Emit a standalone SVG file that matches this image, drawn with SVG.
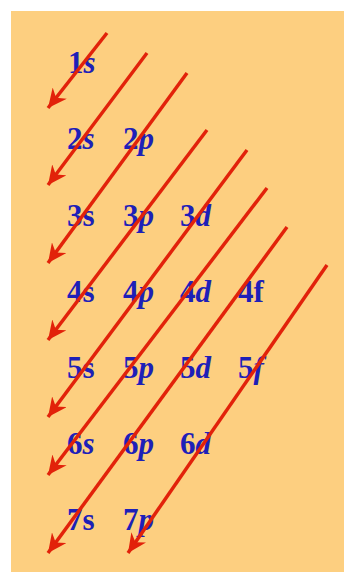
<svg xmlns="http://www.w3.org/2000/svg" width="344" height="572" viewBox="0 0 344 572">
<style>
.lbl{font-family:"Liberation Serif","Times New Roman",serif;font-weight:bold;font-size:31px;fill:#1d20b8}
.it{font-style:italic}
.arr{stroke:#e2220a;stroke-width:3.5;fill:none;marker-end:url(#ah)}
</style>
<defs>
<marker id="ah" markerUnits="userSpaceOnUse" markerWidth="20" markerHeight="18" refX="19" refY="9" orient="auto" viewBox="0 0 20 18">
<path d="M19,9 L0,0 L6,9 L0,18 Z" fill="#e2220a"/>
</marker>
</defs>
<rect x="11" y="11" width="333" height="561" fill="#fdcf80"/>
<g id="labels">
<g id="n1s"><text class="lbl" x="68" y="73">1<tspan class="it">s</tspan></text></g>
<g id="n2s"><text class="lbl" x="67" y="149">2<tspan class="it">s</tspan></text></g>
<g id="n2p"><text class="lbl" x="123" y="149">2<tspan class="it">p</tspan></text></g>
<g id="n3s"><text class="lbl" x="67" y="226">3s</text></g>
<g id="n3p"><text class="lbl" x="123" y="226">3<tspan class="it">p</tspan></text></g>
<g id="n3d"><text class="lbl" x="180" y="226">3<tspan class="it">d</tspan></text></g>
<g id="n4s"><text class="lbl" x="67" y="302">4s</text></g>
<g id="n4p"><text class="lbl" x="123" y="302">4<tspan class="it">p</tspan></text></g>
<g id="n4d"><text class="lbl" x="180" y="302">4<tspan class="it">d</tspan></text></g>
<g id="n4f"><text class="lbl" x="238" y="302">4f</text></g>
<g id="n5s"><text class="lbl" x="67" y="378">5s</text></g>
<g id="n5p"><text class="lbl" x="123" y="378">5<tspan class="it">p</tspan></text></g>
<g id="n5d"><text class="lbl" x="180" y="378">5<tspan class="it">d</tspan></text></g>
<g id="n5f"><text class="lbl" x="238" y="378">5<tspan class="it">f</tspan></text></g>
<g id="n6s"><text class="lbl" x="67" y="454">6<tspan class="it">s</tspan></text></g>
<g id="n6p"><text class="lbl" x="123" y="454">6<tspan class="it">p</tspan></text></g>
<g id="n6d"><text class="lbl" x="180" y="454">6<tspan class="it">d</tspan></text></g>
<g id="n7s"><text class="lbl" x="67" y="530">7s</text></g>
<g id="n7p"><text class="lbl" x="123" y="530">7<tspan class="it">p</tspan></text></g>
</g>
<g id="connectors">
<line class="arr" x1="107" y1="33" x2="48" y2="108"/>
<line class="arr" x1="147" y1="53" x2="48" y2="185"/>
<line class="arr" x1="187" y1="73" x2="48" y2="263"/>
<line class="arr" x1="207" y1="130" x2="48" y2="340"/>
<line class="arr" x1="247" y1="150" x2="48" y2="417"/>
<line class="arr" x1="267" y1="188" x2="48" y2="475"/>
<line class="arr" x1="287" y1="227" x2="48" y2="553"/>
<line class="arr" x1="327" y1="265" x2="128" y2="553"/>
</g>
</svg>
